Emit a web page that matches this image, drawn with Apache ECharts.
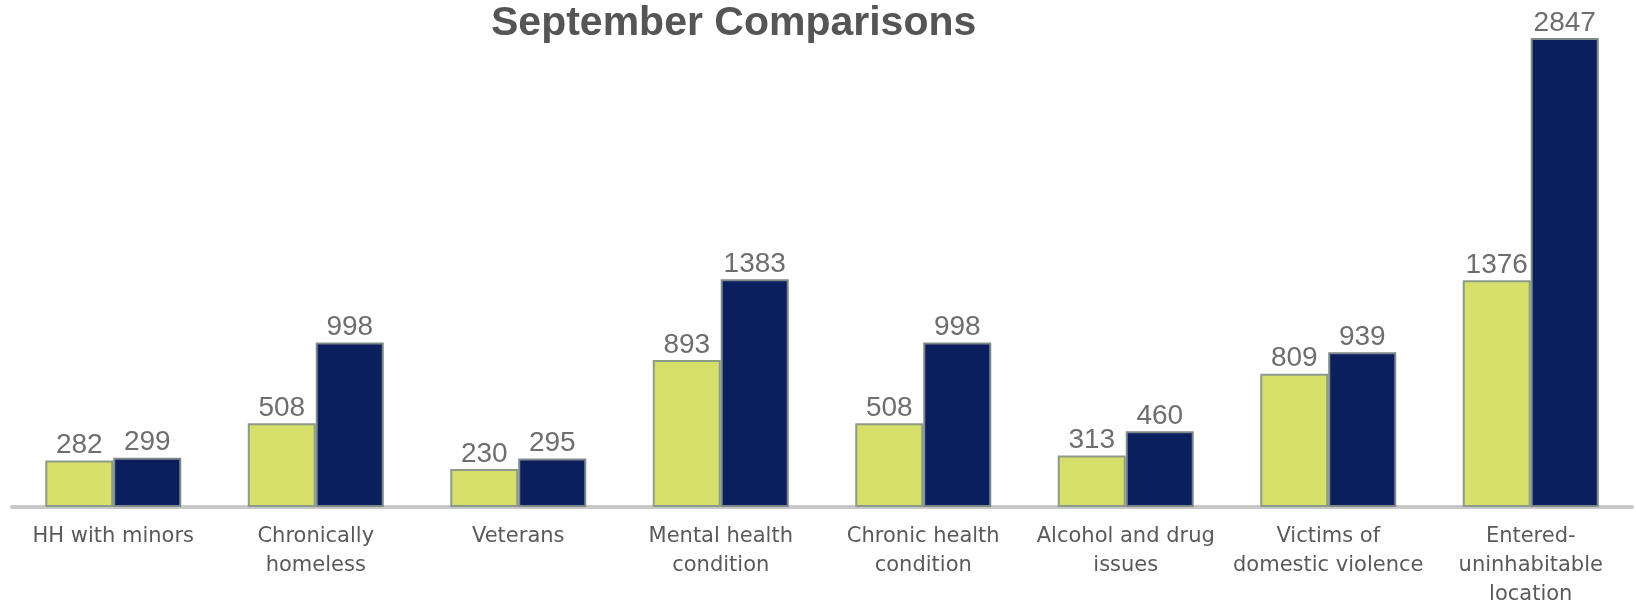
<!DOCTYPE html>
<html><head><meta charset="utf-8">
<script src="https://cdn.jsdelivr.net/npm/echarts@6/dist/echarts.min.js"></script>
<style>html,body{margin:0;padding:0;background:#fff}#c{width:1636px;height:602px}</style>
</head><body><div id="c"></div>
<script>
var categories = ['HH with minors', 'Chronically\nhomeless', 'Veterans', 'Mental health\ncondition', 'Chronic health\ncondition', 'Alcohol and drug\nissues', 'Victims of\ndomestic violence', 'Entered-\nuninhabitable\nlocation'];
var seriesA = [282, 508, 230, 893, 508, 313, 809, 1376];
var seriesB = [299, 998, 295, 1383, 998, 460, 939, 2847];
var chart = echarts.init(document.getElementById('c'));
var lbl = {show: true, position: 'top', distance: 1, color: '#6e6e6e', fontSize: 28, fontFamily: 'Liberation Sans, Arial, sans-serif'};
chart.setOption({
  animation: false,
  title: {text: 'September Comparisons', left: 486, top: -2, textStyle: {fontSize: 41, fontWeight: 'bold', color: '#555', fontFamily: 'Liberation Sans, Arial, sans-serif'}},
  grid: {left: 12, right: 4, top: 38, bottom: 95, containLabel: false, outerBoundsMode: 'none'},
  xAxis: {type: 'category', data: categories,
    axisLine: {lineStyle: {color: '#c8c8c8', width: 4}}, axisTick: {show: false},
    axisLabel: {color: '#5a5a5a', fontSize: 21, lineHeight: 29, margin: 15, interval: 0, fontFamily: 'DejaVu Sans, sans-serif'}},
  yAxis: {type: 'value', min: 0, max: 2847, show: false, splitLine: {show: false}},
  series: [
    {type: 'bar', data: seriesA, barWidth: 68, barGap: '0%', itemStyle: {color: '#d5df6a', borderColor: '#8d9a88', borderWidth: 2}, label: lbl},
    {type: 'bar', data: seriesB, barWidth: 68, barGap: '0%', itemStyle: {color: '#0b1f5f', borderColor: '#7e8888', borderWidth: 2}, label: lbl}
  ]
});
</script></body></html>
